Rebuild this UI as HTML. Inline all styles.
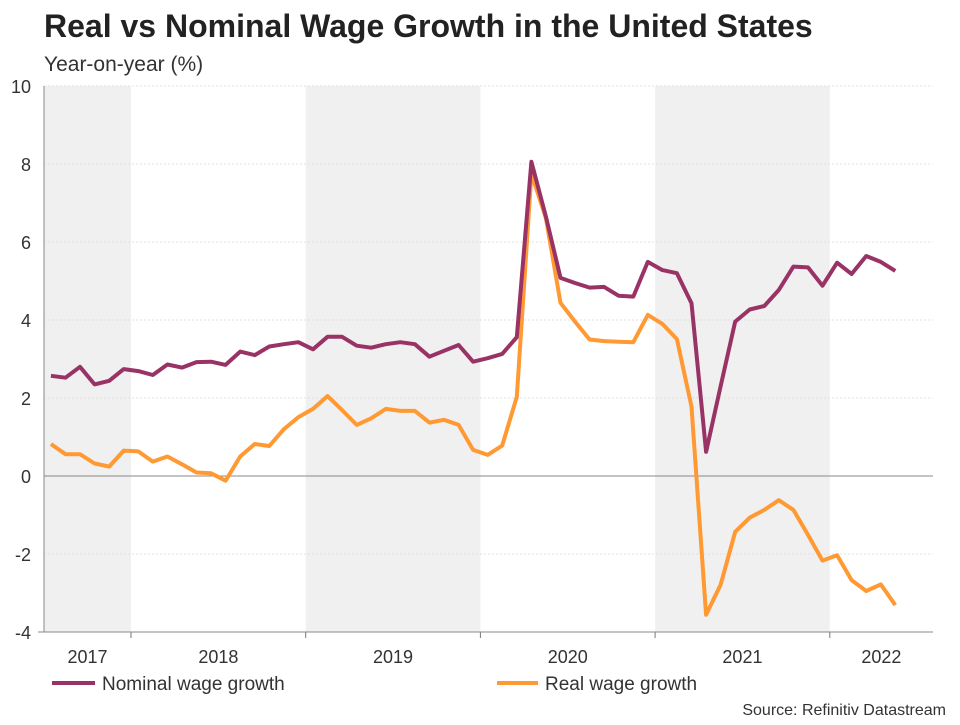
<!DOCTYPE html>
<html><head><meta charset="utf-8"><style>
body{margin:0;background:#fff;font-family:"Liberation Sans",Arial,sans-serif;}
svg text{font-family:"Liberation Sans",Arial,sans-serif;}
</style></head><body>
<svg id="chart" width="960" height="720" viewBox="0 0 960 720">
<text x="44" y="37" font-size="32" font-weight="bold" fill="#222">Real vs Nominal Wage Growth in the United States</text>
<text x="44" y="71" font-size="21" fill="#333">Year-on-year (%)</text>
<g id="bands"></g><g id="grid"></g><g id="axes"></g><g id="lines"></g>
<line x1="52" y1="683" x2="95" y2="683" stroke="#993366" stroke-width="4"/>
<text x="102" y="690" font-size="19" fill="#333">Nominal wage growth</text>
<line x1="497" y1="683" x2="538" y2="683" stroke="#ff9933" stroke-width="4"/>
<text x="545" y="690" font-size="19" fill="#333">Real wage growth</text>
<text x="946" y="715" font-size="16" fill="#333" text-anchor="end">Source: Refinitiv Datastream</text>
</svg>
<script>
const yTicks=[-4,-2,0,2,4,6,8,10];
const years=["2017","2018","2019","2020","2021","2022"];
const shadedYears=["2017","2019","2021"];
const startMonth=6; // Jul 2017 (months since Jan 2017)
const nominal=[2.57,2.52,2.80,2.35,2.44,2.74,2.69,2.59,2.86,2.78,2.92,2.93,2.85,3.19,3.10,3.32,3.38,3.43,3.25,3.57,3.57,3.34,3.29,3.38,3.43,3.38,3.06,3.21,3.36,2.93,3.02,3.13,3.56,8.06,6.65,5.08,4.95,4.83,4.85,4.62,4.60,5.49,5.28,5.20,4.43,0.62,2.30,3.96,4.27,4.36,4.77,5.37,5.35,4.88,5.47,5.18,5.64,5.49,5.26];
const real=[0.82,0.56,0.56,0.32,0.24,0.65,0.63,0.37,0.50,0.30,0.09,0.07,-0.12,0.50,0.82,0.77,1.20,1.51,1.72,2.05,1.69,1.31,1.48,1.72,1.67,1.67,1.37,1.44,1.31,0.67,0.54,0.78,2.03,7.76,6.61,4.44,3.96,3.50,3.46,3.44,3.43,4.13,3.90,3.51,1.78,-3.56,-2.79,-1.43,-1.07,-0.87,-0.62,-0.87,-1.51,-2.17,-2.03,-2.67,-2.95,-2.78,-3.31];
const NS="http://www.w3.org/2000/svg";
const L=44,R=933,T=86,B=632,yMin=-4,yMax=10;
const yearW=174.7, x2017=131-yearW;
function yS(v){return B-(v-yMin)/(yMax-yMin)*(B-T);}
function xM(m){return x2017+(m+0.5)*yearW/12;}
function mk(tag,attrs,parent){const e=document.createElementNS(NS,tag);for(const k in attrs)e.setAttribute(k,attrs[k]);document.getElementById(parent).appendChild(e);return e;}
years.forEach((y,i)=>{
 const x0=Math.max(L,x2017+i*yearW), x1=Math.min(R,x2017+(i+1)*yearW);
 if(shadedYears.includes(y)){const r=mk('rect',{x:x0,y:T,width:x1-x0,height:B-T,fill:'#f0f0f0'},'bands');
  
  }
 const t=mk('text',{x:(x0+x1)/2,y:663,'font-size':18,fill:'#333','text-anchor':'middle'},'axes');t.textContent=y;
 
 
 if(i>0){const tk=mk('line',{x1:x0,x2:x0,y1:B,y2:B+6,stroke:'#777'},'axes');
  
  }
});
yTicks.forEach(v=>{
 const y=yS(v);
 if(v!==yMin){const g=mk('line',{x1:L,x2:R,y1:y,y2:y,stroke:v===0?'#888':'#e0e0e0','stroke-dasharray':v===0?'none':'2,2','stroke-width':1},'grid');
  
  }
 const t=mk('text',{x:31,y:y+7,'font-size':18,fill:'#333','text-anchor':'end'},'axes');t.textContent=v;
 
 
});
const ax=mk('line',{x1:L,x2:L,y1:T,y2:B,stroke:'#888'},'axes');


const bx=mk('line',{x1:38,x2:R,y1:B,y2:B,stroke:'#888'},'axes');


function line(data,color,name){
 const d=data.map((v,i)=>(i?'L':'M')+xM(startMonth+i).toFixed(1)+','+yS(v).toFixed(1)).join('');
 const p=mk('path',{d:d,fill:'none',stroke:color,'stroke-width':4,'stroke-linejoin':'round'},'lines');
 
 
}
line(real,'#ff9933','real-wage-line');
line(nominal,'#993366','nominal-wage-line');
</script>
</body></html>
